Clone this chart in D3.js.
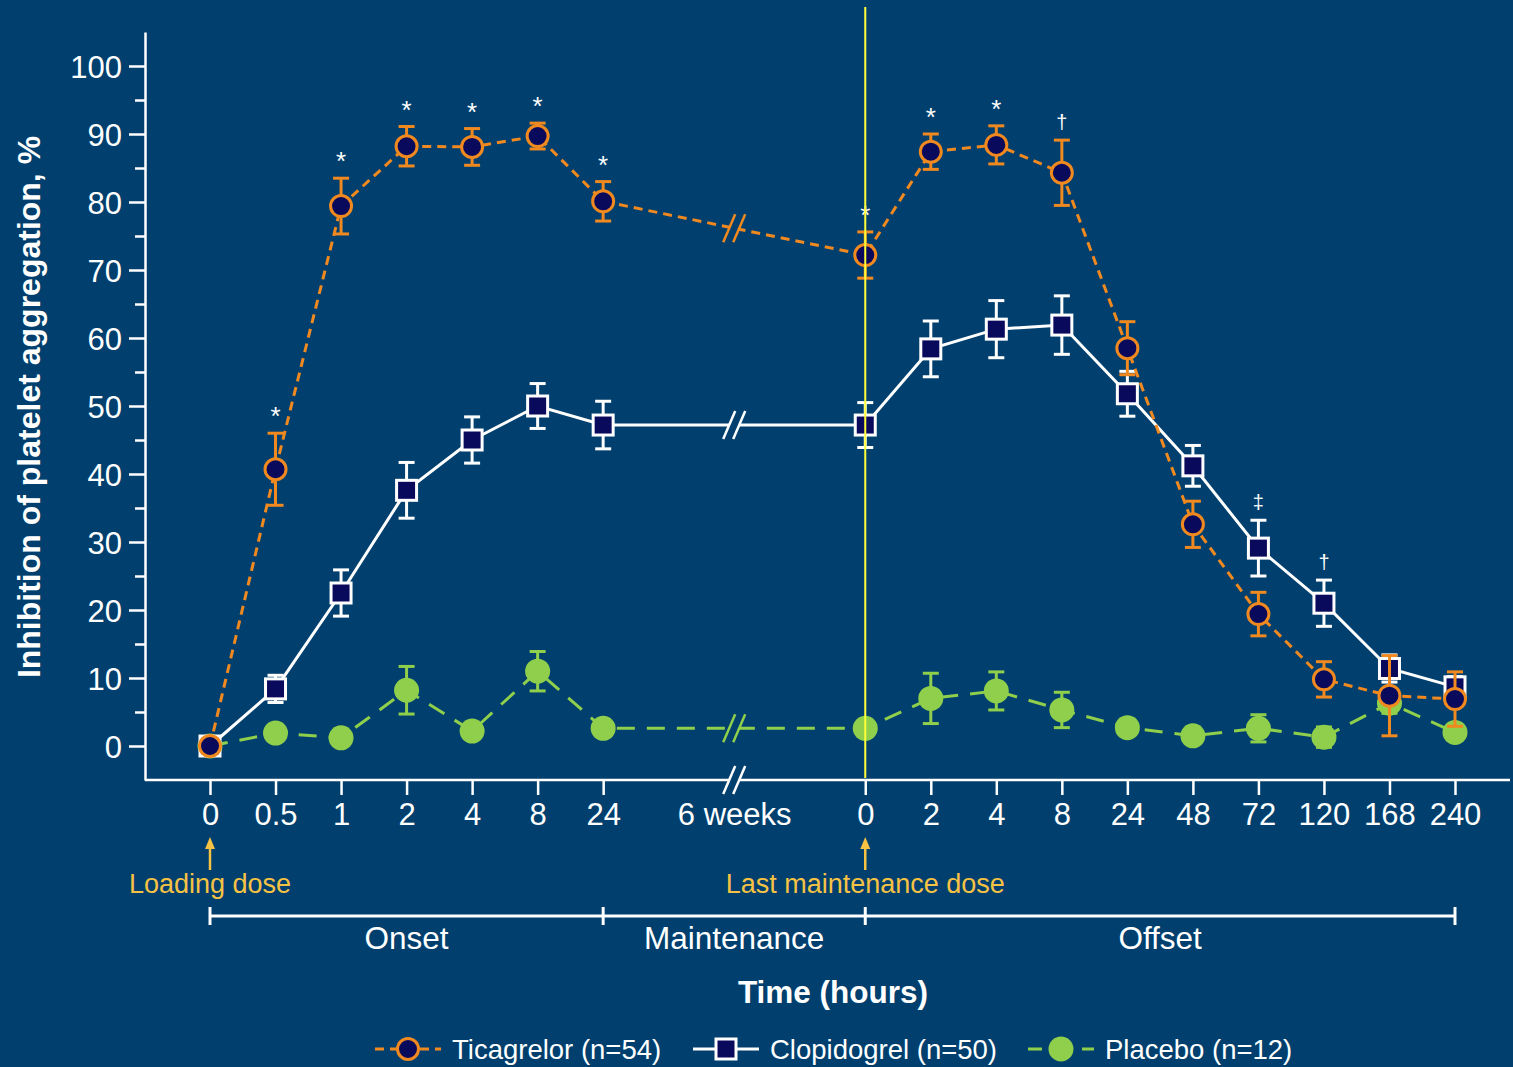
<!DOCTYPE html>
<html>
<head>
<meta charset="utf-8">
<script src="https://cdn.jsdelivr.net/npm/d3@7"></script>
<style>
  html, body { margin: 0; padding: 0; background: #003f6e; }
  svg { display: block; font-family: Arial, "Liberation Sans", sans-serif; }
</style>
</head>
<body>
<div id="chart"></div>
<script>
/* Inhibition of platelet aggregation over time */

// x slots: onset hours, a gap, 6 weeks, a gap, offset hours
const slotKeys = ["0", "0.5", "1", "2", "4", "8", "24", "g1", "6w", "g2",
                  "m0", "m2", "m4", "m8", "m24", "m48", "m72", "m120", "m168", "m240"];
const tickLabels = ["0", "0.5", "1", "2", "4", "8", "24", "", "6 weeks", "",
                    "0", "2", "4", "8", "24", "48", "72", "120", "168", "240"];
// timepoints that carry data (same order as the series arrays)
const timeKeys = ["0", "0.5", "1", "2", "4", "8", "24",
                  "m0", "m2", "m4", "m8", "m24", "m48", "m72", "m120", "m168", "m240"];

const ticaMean = [0, 40.7, 79.4, 88.2, 88.1, 89.7, 80.1, 72.2, 87.4, 88.4, 84.3, 58.5, 32.6, 19.4, 9.8, 7.4, 6.9];
const ticaErr  = [0, 5.3, 4.1, 2.9, 2.7, 1.9, 2.9, 3.4, 2.6, 2.8, 4.8, 3.9, 3.4, 3.2, 2.6, 5.9, 4.0];
const clopMean = [0, 8.4, 22.5, 37.6, 45.0, 50.0, 47.2, 47.2, 58.4, 61.3, 61.9, 51.8, 41.2, 29.1, 21.0, 11.4, 8.7];
const clopErr  = [0, 2.0, 3.4, 4.1, 3.4, 3.3, 3.5, 3.3, 4.1, 4.2, 4.3, 3.3, 3.0, 4.1, 3.4, 2.0, 1.5];
const placMean = [0, 1.9, 1.2, 8.2, 2.2, 11.0, 2.6, 2.6, 7.0, 8.1, 5.3, 2.7, 1.5, 2.6, 1.3, 6.3, 2.0];
const placErr  = [0, 0.8, 0.8, 3.5, 0.8, 2.9, 1.0, 0.8, 3.7, 2.8, 2.6, 1.2, 1.0, 2.0, 1.5, 1.5, 1.0];

// significance marks: [index into timeKeys, symbol]
const ticaMarks = [[1, "*"], [2, "*"], [3, "*"], [4, "*"], [5, "*"], [6, "*"], [7, "*"], [8, "*"], [9, "*"], [10, "\u2020"]];
const clopMarks = [[13, "\u2021"], [14, "\u2020"]];

const yTicks = [0, 10, 20, 30, 40, 50, 60, 70, 80, 90, 100];
const yMinor = [5, 15, 25, 35, 45, 55, 65, 75, 85, 95];

const phases = [
  { label: "Onset", from: "0", to: "24" },
  { label: "Maintenance", from: "24", to: "m0" },
  { label: "Offset", from: "m0", to: "m240" }
];
const doses = [{ key: "0", label: "Loading dose" }, { key: "m0", label: "Last maintenance dose" }];

const width = 1513, height = 1067;
const bg = "#003f6e", navy = "#0a0a5c",
      orange = "#f0891f", green = "#8fcf4b", gold = "#f6c244", yellow = "#ffff3a";

const svg = d3.select("#chart").append("svg")
    .attr("width", width).attr("height", height)
    .attr("viewBox", [0, 0, width, height]);

svg.append("rect").attr("width", width).attr("height", height).attr("fill", bg);

let x = d3.scalePoint().domain(slotKeys).range([210, 1455]);
let y = d3.scaleLinear().domain([-5, 105]).range([780, 32]);

/* axes */
let yAxis = svg.append("g")
    .attr("transform", "translate(145,0)")
    .call(d3.axisLeft(y).tickValues(yTicks).tickSize(16).tickSizeOuter(0).tickPadding(7));
svg.append("g")
    .attr("transform", "translate(145,0)")
    .call(d3.axisLeft(y).tickValues(yMinor).tickSize(10).tickFormat(""))
    .call(g => g.select(".domain").remove());

let xAxis = svg.append("g")
    .attr("transform", "translate(0,780)")
    .call(d3.axisBottom(x).tickValues(slotKeys.filter((k, i) => tickLabels[i] !== ""))
        .tickSize(15).tickPadding(8)
        .tickFormat(k => tickLabels[slotKeys.indexOf(k)]))
    .call(g => g.select(".domain").remove());
xAxis.selectAll(".tick").filter(k => k === "6w").select("line").remove();

svg.append("line")
    .attr("x1", 145).attr("x2", 1510).attr("y1", 780).attr("y2", 780);

svg.selectAll(".tick line, .domain")
    .attr("stroke", "white").attr("stroke-width", 2.5);
svg.selectAll("svg > line").attr("stroke", "white").attr("stroke-width", 2.5);
svg.selectAll(".tick text")
    .attr("fill", "white").attr("font-size", 31).attr("font-family", "Arial, 'Liberation Sans', sans-serif");
yAxis.selectAll(".tick text").attr("dy", "0.36em");

// break mark helper: two slanted strokes with a background gap
function breakMark(cx, cy, color) {
  let g = svg.append("g").attr("transform", `translate(${cx},${cy})`);
  g.append("polygon")
      .attr("points", "-11,14 1,-14 11,-14 -1,14")
      .attr("fill", bg);
  [-5, 5].forEach(o => {
    g.append("line")
        .attr("x1", o - 6).attr("y1", 14).attr("x2", o + 6).attr("y2", -14)
        .attr("stroke", color).attr("stroke-width", 2.5);
  });
}
breakMark(x("6w"), 780, "white");

/* series */
const series = [
  { mean: placMean, err: placErr, color: green, dash: "18,12", shape: "dot" },
  { mean: clopMean, err: clopErr, color: "white", dash: null, shape: "square" },
  { mean: ticaMean, err: ticaErr, color: orange, dash: "9,6", shape: "ring" }
];

let line = d3.line().x(d => x(d.key)).y(d => y(d.v));

series.forEach(s => {
  let pts = timeKeys.map((k, i) => ({ key: k, v: s.mean[i], e: s.err[i] }));
  let g = svg.append("g");

  g.append("path")
      .datum(pts)
      .attr("d", line)
      .attr("fill", "none")
      .attr("stroke", s.color)
      .attr("stroke-width", 3)
      .attr("stroke-dasharray", s.dash);

  // break on the line between 24 h and the last maintenance dose
  let a = pts[6], b = pts[7];
  breakMark((x(a.key) + x(b.key)) / 2, (y(a.v) + y(b.v)) / 2, s.color);

  let eb = g.selectAll(".err")
      .data(pts.filter(d => d.e > 0))
      .join("g")
      .attr("stroke", s.color)
      .attr("stroke-width", 3);
  eb.append("line")
      .attr("x1", d => x(d.key)).attr("x2", d => x(d.key))
      .attr("y1", d => y(d.v - d.e)).attr("y2", d => y(d.v + d.e));
  eb.append("line")
      .attr("x1", d => x(d.key) - 8).attr("x2", d => x(d.key) + 8)
      .attr("y1", d => y(d.v + d.e)).attr("y2", d => y(d.v + d.e));
  eb.append("line")
      .attr("x1", d => x(d.key) - 8).attr("x2", d => x(d.key) + 8)
      .attr("y1", d => y(d.v - d.e)).attr("y2", d => y(d.v - d.e));

  if (s.shape === "dot") {
    g.selectAll(".pt").data(pts).join("circle")
        .attr("cx", d => x(d.key)).attr("cy", d => y(d.v))
        .attr("r", 12.5).attr("fill", s.color);
  } else if (s.shape === "square") {
    g.selectAll(".pt").data(pts).join("rect")
        .attr("x", d => x(d.key) - 10).attr("y", d => y(d.v) - 10)
        .attr("width", 20).attr("height", 20)
        .attr("fill", navy).attr("stroke", s.color).attr("stroke-width", 3);
  } else {
    g.selectAll(".pt").data(pts).join("circle")
        .attr("cx", d => x(d.key)).attr("cy", d => y(d.v))
        .attr("r", 10.5).attr("fill", navy)
        .attr("stroke", s.color).attr("stroke-width", 3);
  }
});

/* significance marks */
function marks(list, mean, err) {
  svg.append("g").selectAll("text")
      .data(list)
      .join("text")
      .attr("x", d => x(timeKeys[d[0]]))
      .attr("y", d => y(mean[d[0]] + err[d[0]]) - (d[1] === "*" ? 8 : 11))
      .attr("text-anchor", "middle")
      .attr("fill", "white")
      .attr("font-size", d => d[1] === "*" ? 26 : 20)
      .text(d => d[1]);
}
marks(ticaMarks, ticaMean, ticaErr);
marks(clopMarks, clopMean, clopErr);

/* last maintenance dose marker line */
svg.append("line")
    .attr("x1", x("m0")).attr("x2", x("m0"))
    .attr("y1", 7).attr("y2", 778)
    .attr("stroke", yellow).attr("stroke-width", 2);

/* dose arrows */
let dose = svg.append("g").selectAll("g").data(doses).join("g");
dose.append("line")
    .attr("x1", d => x(d.key)).attr("x2", d => x(d.key))
    .attr("y1", 846).attr("y2", 870)
    .attr("stroke", gold).attr("stroke-width", 2.5);
dose.append("path")
    .attr("d", d => `M${x(d.key)},837 l-5,12 l10,0 Z`)
    .attr("fill", gold);
dose.append("text")
    .attr("x", d => x(d.key)).attr("y", 893)
    .attr("text-anchor", "middle")
    .attr("fill", gold).attr("font-size", 27)
    .text(d => d.label);

/* phase bracket */
let br = svg.append("g").attr("stroke", "white").attr("stroke-width", 3);
br.append("line")
    .attr("x1", x("0")).attr("x2", x("m240"))
    .attr("y1", 916).attr("y2", 916);
br.selectAll(".cap")
    .data(["0", "24", "m0", "m240"])
    .join("line")
    .attr("x1", d => x(d)).attr("x2", d => x(d))
    .attr("y1", 907).attr("y2", 925);

svg.append("g").selectAll("text")
    .data(phases)
    .join("text")
    .attr("x", d => (x(d.from) + x(d.to)) / 2)
    .attr("y", 949)
    .attr("text-anchor", "middle")
    .attr("fill", "white").attr("font-size", 31.5)
    .text(d => d.label);

/* axis titles */
svg.append("text")
    .attr("x", 833).attr("y", 1003)
    .attr("text-anchor", "middle")
    .attr("fill", "white").attr("font-size", 31.5).attr("font-weight", "bold")
    .text("Time (hours)");

svg.append("text")
    .attr("transform", "translate(40,407) rotate(-90)")
    .attr("text-anchor", "middle")
    .attr("fill", "white").attr("font-size", 32).attr("font-weight", "bold")
    .text("Inhibition of platelet aggregation, %");

/* legend */
const legendItems = [
  { label: "Ticagrelor (n=54)", x0: 375, color: orange, dash: "9,6", shape: "ring" },
  { label: "Clopidogrel (n=50)", x0: 693, color: "white", dash: null, shape: "square" },
  { label: "Placebo (n=12)", x0: 1028, color: green, dash: "14,40,12", shape: "dot" }
];
let lg = svg.append("g").selectAll("g").data(legendItems).join("g")
    .attr("transform", d => `translate(${d.x0},1049)`);
lg.append("line")
    .attr("x1", 0).attr("x2", 66)
    .attr("stroke", d => d.color).attr("stroke-width", 3)
    .attr("stroke-dasharray", d => d.dash);
lg.each(function(d) {
  let g = d3.select(this);
  if (d.shape === "dot") {
    g.append("circle").attr("cx", 33).attr("r", 12.5).attr("fill", d.color);
  } else if (d.shape === "square") {
    g.append("rect").attr("x", 23).attr("y", -10).attr("width", 20).attr("height", 20)
        .attr("fill", navy).attr("stroke", d.color).attr("stroke-width", 3);
  } else {
    g.append("circle").attr("cx", 33).attr("r", 10.5).attr("fill", navy)
        .attr("stroke", d.color).attr("stroke-width", 3);
  }
});
lg.append("text")
    .attr("x", 77).attr("y", 10)
    .attr("fill", "white").attr("font-size", 27.5)
    .text(d => d.label);
</script>
</body>
</html>
